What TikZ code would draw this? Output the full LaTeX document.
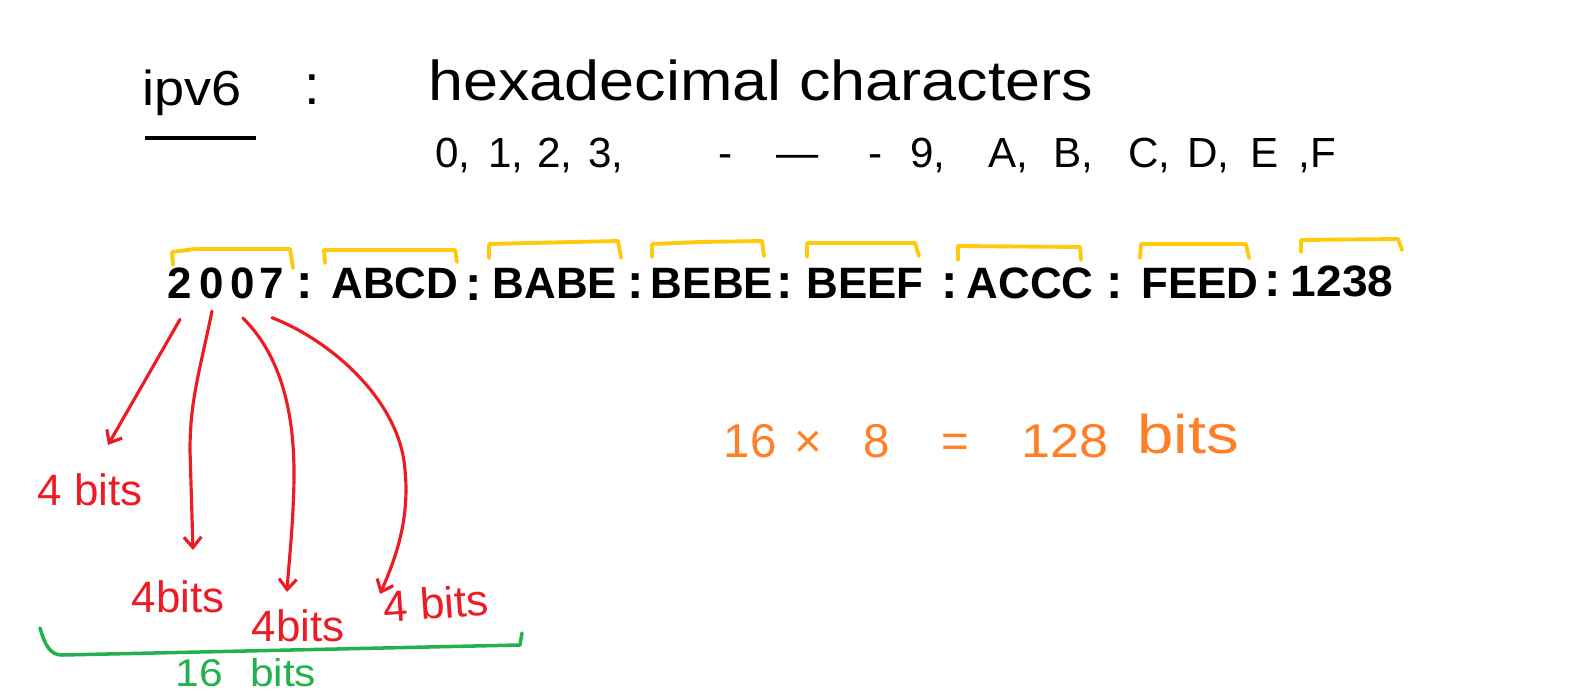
\documentclass[tikz,border=0pt]{standalone}
\usepackage{fontspec}
\setmainfont{Liberation Sans}
\usetikzlibrary{arrows.meta}
\definecolor{hred}{HTML}{ED1C24}
\definecolor{hyellow}{HTML}{FFC90E}
\definecolor{hgreen}{HTML}{22B14C}
\definecolor{horange}{HTML}{FF7F27}
\begin{document}
\begin{tikzpicture}[x=0.02cm,y=-0.02cm,
  txt/.style={inner sep=0pt,anchor=base},
  big/.style={txt,font=\fontsize{32}{38}\selectfont},
  mid/.style={txt,anchor=base west,font=\fontsize{24}{28}\selectfont},
  addr/.style={txt,font=\bfseries\fontsize{25}{30}\selectfont},
  sepdot/.style={txt,font=\bfseries\fontsize{28}{30}\selectfont},
  bitslbl/.style={txt,anchor=center,text=hred,font=\fontsize{25}{30}\selectfont},
  calc/.style={txt,text=horange,font=\fontsize{27}{32}\selectfont},
  brk/.style={draw=hyellow,line width=2.2pt,line cap=round,line join=round},
  redarrow/.style={draw=hred,line width=1.8pt,line cap=round,-{Straight Barb[length=6pt,width=10pt,line width=1.8pt]}},
  brace/.style={draw=hgreen,line width=2pt,line cap=round,line join=round},
  ]
\useasboundingbox (0,0) rectangle (1581,693);
% title row
\node[big,font=\fontsize{28}{32}\selectfont] (ipv) at (192,105) {\scalebox{1.1}[1]{ipv6}};
\draw[line width=2pt] (145,138) -- (256,138);
\node[big] (col0) at (312,104) {:};
\node[big,anchor=base west] (hex) at (428,100) {\scalebox{1.12}[1]{hexadecimal characters}};
% hexadecimal digits line
\foreach \xx/\lbl [count=\i] in {435/{0,},488/{1,},537/{2,},588/{3,},718/{-},776/{—},868/{-},910/{9,},988/{A,},1053/{B,},1128/{C,},1187/{D,},1250/{E},1298/{,F}}
  \node[mid] (hd\i) at (\xx,167) {\lbl};
% address
\node[addr] (d1) at (180,298) {2};
\node[addr] (d2) at (212,298) {0};
\node[addr] (d3) at (243,298) {0};
\node[addr] (d4) at (272,298) {7};
\node[sepdot] (c1) at (305,298) {:};
\node[addr] (g2) at (395,298) {ABCD};
\node[sepdot] (c2) at (474,300) {:};
\node[addr] (g3) at (555,298) {BABE};
\node[sepdot] (c3) at (636,298) {:};
\node[addr] (g4) at (712,298) {BEBE};
\node[sepdot] (c4) at (785,298) {:};
\node[addr] (g5) at (865,298) {BEEF};
\node[sepdot] (c5) at (950,298) {:};
\node[addr] (g6) at (1030,298) {ACCC};
\node[sepdot] (c6) at (1115,298) {:};
\node[addr] (g7) at (1200,298) {FEED};
\node[sepdot] (c7) at (1273,296) {:};
\node[addr] (g8) at (1342,296) {\scalebox{1.05}[1]{1238}};
% yellow brackets
\draw[brk] (173,265) -- (172,252) -- (195,249) -- (290,249) -- (293,268);
\draw[brk] (325,263) -- (324,250) -- (455,250) -- (457,262);
\draw[brk] (489,258) -- (489,244) -- (530,243) -- (618,241) -- (621,258);
\draw[brk] (652,257) -- (652,244) -- (700,242) -- (762,241) -- (764,256);
\draw[brk] (807,257) -- (807,243) -- (915,243) -- (919,256);
\draw[brk] (958,260) -- (958,246) -- (1080,247) -- (1081,260);
\draw[brk] (1140,258) -- (1141,244) -- (1246,244) -- (1249,258);
\draw[brk] (1301,252) -- (1301,240) -- (1398,239) -- (1402,250);
% red labels
\node[bitslbl] (l1) at (90,490) {4 bits};
\node[bitslbl] (l2) at (178,597) {4bits};
\node[bitslbl] (l3) at (298,626) {4bits};
\node[bitslbl,rotate=4] (l4) at (436,603) {4 bits};
\coordinate (e1) at (108,445);
\coordinate (e2) at (193,550);
\coordinate (e3) at (287,592);
\coordinate (e4) at (380,594);
\draw[redarrow] ([yshift=-12pt]d1.south) -- (e1);
\draw[redarrow] ([yshift=-7pt]d2.south) .. controls (200,370) and (190,400) .. (190,450) -- (e2);
\draw[redarrow] ([yshift=-11pt]d3.south) .. controls (275,350) and (295,400) .. (294,480) .. controls (293,530) and (289,560) .. (e3);
\draw[redarrow] ([yshift=-11pt]d4.south) .. controls (330,340) and (400,400) .. (405,470) .. controls (410,520) and (395,560) .. (e4);
% green brace
\draw[brace] (40,628) .. controls (45,645) and (50,655) .. (62,655) -- (520,645) -- (522,633);
\node[txt,anchor=base,text=hgreen,font=\fontsize{22}{26}\selectfont] (sixteen) at (246,686) {\scalebox{1.1}[1]{16\hspace{14pt}bits}};
% orange calculation
\node[calc] (n16) at (750,457) {16};
\node[calc] (times) at (808,457) {×};
\node[calc] (n8) at (877,457) {8};
\node[calc] (eq) at (955,457) {=};
\node[calc] (n128) at (1065,457) {\scalebox{1.1}[1]{128}};
\node[calc,font=\fontsize{31}{34}\selectfont] (wbits) at (1188,453) {\scalebox{1.2}[1]{bits}};
\end{tikzpicture}
\end{document}
